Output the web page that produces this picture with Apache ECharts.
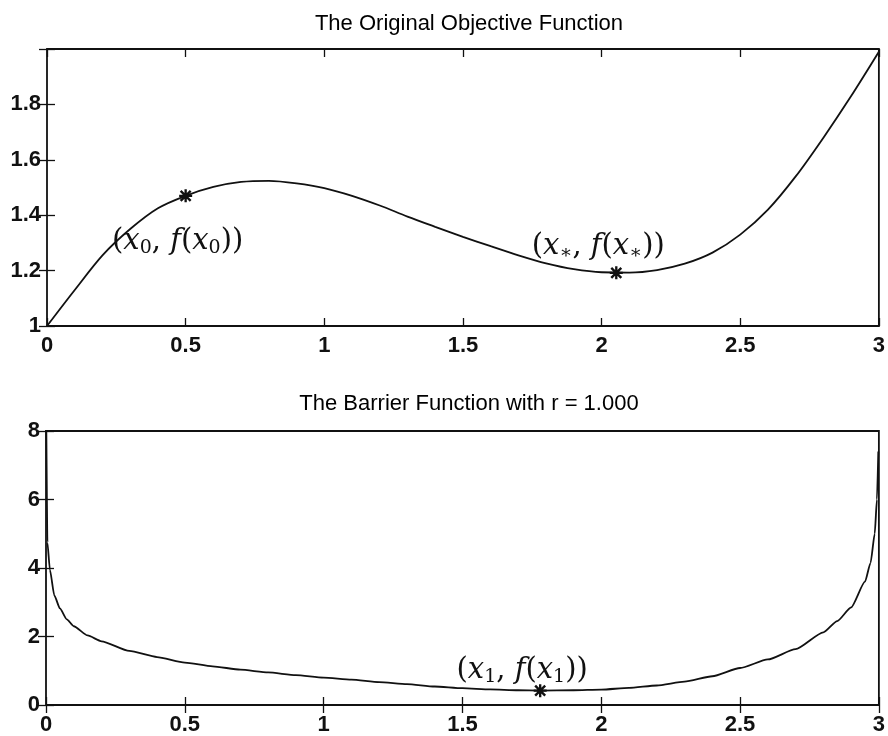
<!DOCTYPE html>
<html>
<head>
<meta charset="utf-8">
<script src="https://cdn.jsdelivr.net/npm/echarts@6/dist/echarts.min.js"></script>
<style>
  html, body { margin: 0; padding: 0; background: #fff; }
  #chart { width: 888px; height: 736px; }
</style>
</head>
<body>
<div id="chart"></div>
<script>
// values
const objX = [0, 0.1, 0.2, 0.3, 0.4, 0.5, 0.6, 0.7, 0.8, 0.9, 1.0, 1.1, 1.2, 1.3, 1.4, 1.5,
  1.6, 1.7, 1.8, 1.9, 2.0, 2.1, 2.2, 2.3, 2.4, 2.5, 2.6, 2.7, 2.8, 2.9, 3.0];
const objY = [1.00, 1.13, 1.255, 1.35, 1.425, 1.47, 1.502, 1.52, 1.524, 1.515, 1.498, 1.47,
  1.435, 1.395, 1.358, 1.322, 1.288, 1.255, 1.226, 1.205, 1.194, 1.193, 1.202, 1.225,
  1.265, 1.33, 1.42, 1.54, 1.68, 1.83, 1.99];

const barX = [0.001, 0.005, 0.014, 0.03, 0.05, 0.075, 0.1, 0.15, 0.2, 0.3, 0.4, 0.5, 0.6,
  0.7, 0.8, 0.9, 1.0, 1.1, 1.2, 1.3, 1.4, 1.5, 1.6, 1.7, 1.78, 1.9, 2.0, 2.1, 2.2, 2.3,
  2.4, 2.5, 2.6, 2.7, 2.8, 2.85, 2.9, 2.95, 2.97, 2.985, 2.993, 2.998];
const barY = [8.2, 4.75, 3.95, 3.2, 2.82, 2.5, 2.3, 2.03, 1.86, 1.58, 1.40, 1.24, 1.13,
  1.03, 0.95, 0.87, 0.80, 0.74, 0.67, 0.61, 0.54, 0.49, 0.455, 0.43, 0.42, 0.43, 0.45,
  0.50, 0.57, 0.68, 0.84, 1.08, 1.33, 1.63, 2.12, 2.45, 2.85, 3.6, 4.15, 5.0, 6.0, 7.4];

const objStars = [[0.5, 1.47], [2.053, 1.192]];
const barStars = [[1.78, 0.418]];

const titles = ['The Original Objective Function', 'The Barrier Function with r = 1.000'];

const ink = '#111';
const tickFont = 'Helvetica, "Liberation Sans", Arial, sans-serif';
const mathFont = '"DejaVu Serif", "Liberation Serif", serif';

// asterisk marker built from four bars
const star = 'path://M0,4.1L10,4.1L10,5.9L0,5.9Z M4.1,0L5.9,0L5.9,10L4.1,10Z ' +
  'M1.8,0.5L9.5,8.2L8.2,9.5L0.5,1.8Z M8.2,0.5L9.5,1.8L1.8,9.5L0.5,8.2Z';

const zip = (xs, ys) => xs.map((x, i) => [x, ys[i]]);

const mathRich = {
  r: { fontFamily: mathFont, fontSize: 29, color: ink },
  i: { fontFamily: mathFont, fontSize: 29, fontStyle: 'italic', color: ink },
  s: { fontFamily: mathFont, fontSize: 19, color: ink, padding: [13, 0, 0, 0] }
};
const pointLabel = sub =>
  '{r|(}{i|x}{s|' + sub + '}{r|, }{i|f}{r|(}{i|x}{s|' + sub + '}{r|))}';

const markLabel = (sub, offset) => ({
  show: true, position: 'inside', formatter: pointLabel(sub), offset,
  color: ink, textBorderWidth: 0, rich: mathRich
});

const xAxisFor = (gridIndex, position) => ({
  type: 'value', gridIndex, position, min: 0, max: 3, interval: 0.5,
  axisLine: { show: false },
  splitLine: { show: false },
  axisTick: { show: true, inside: true, length: 8, lineStyle: { color: ink, width: 1.3 } },
  axisLabel: {
    show: position === 'bottom', margin: 9, color: ink,
    fontFamily: tickFont, fontSize: 22, fontWeight: 'bold'
  }
});

// top panel stops just under 2, so its top value gets no label
const yAxisFor = (gridIndex, position, min, max, interval, hideTop) => ({
  type: 'value', gridIndex, position, min, max, interval,
  axisLine: { show: false },
  splitLine: { show: false },
  axisTick: { show: true, inside: true, length: 8, lineStyle: { color: ink, width: 1.3 } },
  axisLabel: {
    show: position === 'left', margin: 6, color: ink,
    fontFamily: tickFont, fontSize: 22, fontWeight: 'bold',
    formatter: v => (hideTop && v >= max ? '' : String(v))
  }
});

const chart = echarts.init(document.getElementById('chart'));

const option = {
  animation: false,
  backgroundColor: '#fff',
  title: [
    { text: titles[0], left: 464, top: 8, textAlign: 'center',
      textStyle: { fontFamily: tickFont, fontSize: 22, fontWeight: 'normal', color: '#000' } },
    { text: titles[1], left: 464, top: 388, textAlign: 'center',
      textStyle: { fontFamily: tickFont, fontSize: 22, fontWeight: 'normal', color: '#000' } }
  ],
  grid: [
    { left: 47, right: 7, top: 49, height: 277, show: true, borderColor: ink, borderWidth: 1.8 },
    { left: 46, right: 6, top: 431, height: 275, show: true, borderColor: ink, borderWidth: 1.8 }
  ],
  xAxis: [
    xAxisFor(0, 'bottom'), xAxisFor(0, 'top'),
    xAxisFor(1, 'bottom'), xAxisFor(1, 'top')
  ],
  yAxis: [
    yAxisFor(0, 'left', 1, 2, 0.2, true), yAxisFor(0, 'right', 1, 2, 0.2, true),
    yAxisFor(1, 'left', 0, 8, 2, false), yAxisFor(1, 'right', 0, 8, 2, false)
  ],
  series: [
    {
      type: 'line', xAxisIndex: 0, yAxisIndex: 0,
      data: zip(objX, objY), smooth: 0.3, showSymbol: false,
      lineStyle: { color: ink, width: 1.8 }
    },
    {
      type: 'line', xAxisIndex: 2, yAxisIndex: 2,
      data: zip(barX, barY), smooth: 0.2, smoothMonotone: 'x', showSymbol: false,
      lineStyle: { color: ink, width: 1.8 }
    },
    {
      type: 'scatter', xAxisIndex: 0, yAxisIndex: 0,
      symbol: star, symbolSize: 13, itemStyle: { color: ink, opacity: 1 },
      data: [
        { value: objStars[0], label: markLabel('0', [-8, 46]) },
        { value: objStars[1], label: markLabel('∗', [-18, -26]) }
      ]
    },
    {
      type: 'scatter', xAxisIndex: 2, yAxisIndex: 2,
      symbol: star, symbolSize: 13, itemStyle: { color: ink, opacity: 1 },
      data: [
        { value: barStars[0], label: markLabel('1', [-18, -20]) }
      ]
    }
  ]
};

chart.setOption(option);
</script>
</body>
</html>
